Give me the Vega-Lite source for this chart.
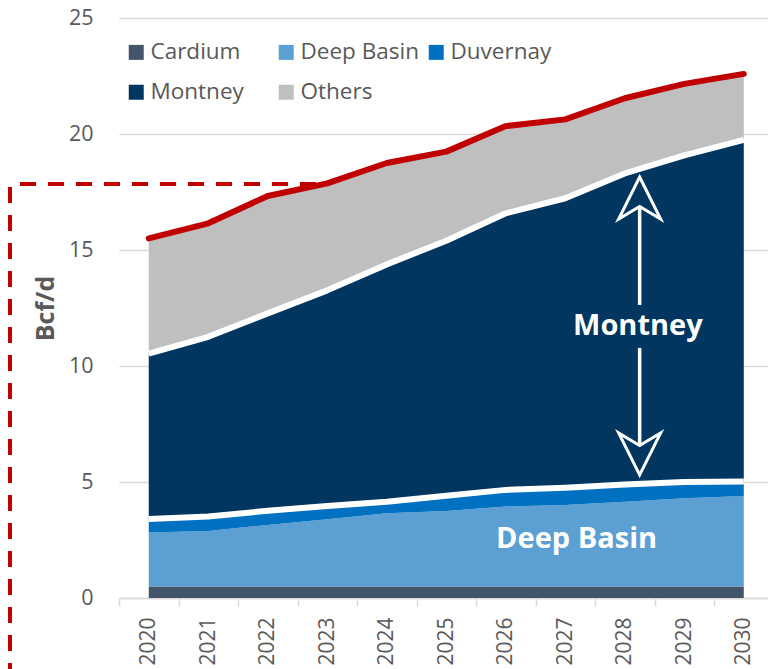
{
  "$schema": "https://vega.github.io/schema/vega-lite/v6.json",
  "width": 649,
  "height": 580,
  "autosize": {"type": "none"},
  "padding": {"left": 119, "top": 18, "right": 0, "bottom": 71},
  "background": "white",
  "config": {"font": "Open Sans", "view": {"stroke": null}},
  "data": {"values": [
    {"year": 2020, "series": "Cardium", "value": 0.5},
    {"year": 2020, "series": "Deep Basin", "value": 2.32},
    {"year": 2020, "series": "Duvernay", "value": 0.58},
    {"year": 2020, "series": "Montney", "value": 7.13},
    {"year": 2020, "series": "Others", "value": 4.97},
    {"year": 2021, "series": "Cardium", "value": 0.5},
    {"year": 2021, "series": "Deep Basin", "value": 2.39},
    {"year": 2021, "series": "Duvernay", "value": 0.62},
    {"year": 2021, "series": "Montney", "value": 7.75},
    {"year": 2021, "series": "Others", "value": 4.89},
    {"year": 2022, "series": "Cardium", "value": 0.5},
    {"year": 2022, "series": "Deep Basin", "value": 2.65},
    {"year": 2022, "series": "Duvernay", "value": 0.61},
    {"year": 2022, "series": "Montney", "value": 8.51},
    {"year": 2022, "series": "Others", "value": 5.06},
    {"year": 2023, "series": "Cardium", "value": 0.5},
    {"year": 2023, "series": "Deep Basin", "value": 2.89},
    {"year": 2023, "series": "Duvernay", "value": 0.58},
    {"year": 2023, "series": "Montney", "value": 9.29},
    {"year": 2023, "series": "Others", "value": 4.61},
    {"year": 2024, "series": "Cardium", "value": 0.5},
    {"year": 2024, "series": "Deep Basin", "value": 3.15},
    {"year": 2024, "series": "Duvernay", "value": 0.5},
    {"year": 2024, "series": "Montney", "value": 10.23},
    {"year": 2024, "series": "Others", "value": 4.37},
    {"year": 2025, "series": "Cardium", "value": 0.5},
    {"year": 2025, "series": "Deep Basin", "value": 3.25},
    {"year": 2025, "series": "Duvernay", "value": 0.66},
    {"year": 2025, "series": "Montney", "value": 10.99},
    {"year": 2025, "series": "Others", "value": 3.84},
    {"year": 2026, "series": "Cardium", "value": 0.5},
    {"year": 2026, "series": "Deep Basin", "value": 3.44},
    {"year": 2026, "series": "Duvernay", "value": 0.72},
    {"year": 2026, "series": "Montney", "value": 11.92},
    {"year": 2026, "series": "Others", "value": 3.76},
    {"year": 2027, "series": "Cardium", "value": 0.5},
    {"year": 2027, "series": "Deep Basin", "value": 3.51},
    {"year": 2027, "series": "Duvernay", "value": 0.74},
    {"year": 2027, "series": "Montney", "value": 12.48},
    {"year": 2027, "series": "Others", "value": 3.4},
    {"year": 2028, "series": "Cardium", "value": 0.5},
    {"year": 2028, "series": "Deep Basin", "value": 3.65},
    {"year": 2028, "series": "Duvernay", "value": 0.74},
    {"year": 2028, "series": "Montney", "value": 13.41},
    {"year": 2028, "series": "Others", "value": 3.24},
    {"year": 2029, "series": "Cardium", "value": 0.5},
    {"year": 2029, "series": "Deep Basin", "value": 3.8},
    {"year": 2029, "series": "Duvernay", "value": 0.7},
    {"year": 2029, "series": "Montney", "value": 14.08},
    {"year": 2029, "series": "Others", "value": 3.08},
    {"year": 2030, "series": "Cardium", "value": 0.5},
    {"year": 2030, "series": "Deep Basin", "value": 3.9},
    {"year": 2030, "series": "Duvernay", "value": 0.62},
    {"year": 2030, "series": "Montney", "value": 14.73},
    {"year": 2030, "series": "Others", "value": 2.84}
  ]},
  "layer": [
    {
      "mark": {"type": "area", "interpolate": "linear"},
      "encoding": {
        "x": {
          "field": "year", "type": "quantitative",
          "scale": {"domain": [2019.5, 2030.407], "nice": false, "zero": false},
          "axis": {
            "values": [2020, 2021, 2022, 2023, 2024, 2025, 2026, 2027, 2028, 2029, 2030],
            "format": "d", "title": null, "grid": false,
            "labelAngle": -90, "labelFlush": false, "labelOverlap": false,
            "tickOffset": -29.75, "labelOffset": 29.75,
            "tickSize": 8, "tickColor": "#D9D9D9", "tickWidth": 1.5,
            "domainColor": "#D9D9D9", "domainWidth": 1.5,
            "labelPadding": 11, "labelFontSize": 21, "labelColor": "#595959"
          }
        },
        "y": {
          "field": "value", "type": "quantitative", "stack": "zero",
          "scale": {"domain": [0, 25], "nice": false},
          "axis": {
            "values": [0, 5, 10, 15, 20, 25],
            "title": "Bcf/d", "titleFontSize": 25, "titleFontWeight": "bold", "titleColor": "#595959",
            "titleX": -74, "titleY": 290, "titleAngle": -90, "titleAlign": "center", "titleBaseline": "middle",
            "grid": true, "gridColor": "#D9D9D9", "gridWidth": 1.5,
            "domain": false, "ticks": false,
            "labelPadding": 26, "labelFontSize": 21.5, "labelColor": "#595959"
          }
        },
        "color": {
          "field": "series", "type": "nominal",
          "scale": {
            "domain": ["Cardium", "Deep Basin", "Duvernay", "Montney", "Others"],
            "range": ["#44546A", "#5B9FD3", "#0070C0", "#00365F", "#BFBFBF"]
          },
          "legend": {
            "orient": "none", "legendX": 6, "legendY": 23, "direction": "horizontal", "columns": 3,
            "title": null, "symbolType": "square", "symbolSize": 225, "symbolStrokeWidth": 0,
            "labelFontSize": 22.5, "labelColor": "#595959", "labelOffset": 3, "labelLimit": 300,
            "rowPadding": 17, "columnPadding": 6, "gridAlign": "all", "padding": 0
          }
        },
        "order": {"field": "series", "sort": "ascending"}
      }
    },
    {
      "transform": [
        {"stack": "value", "groupby": ["year"], "sort": [{"field": "series", "order": "ascending"}], "as": ["v0", "v1"]},
        {"filter": "datum.series === 'Duvernay' || datum.series === 'Montney'"}
      ],
      "mark": {"type": "line", "stroke": "white", "strokeWidth": 6, "strokeJoin": "round"},
      "encoding": {
        "x": {"field": "year", "type": "quantitative"},
        "y": {"field": "v1", "type": "quantitative"},
        "detail": {"field": "series"}
      }
    },
    {
      "transform": [
        {"stack": "value", "groupby": ["year"], "sort": [{"field": "series", "order": "ascending"}], "as": ["v0", "v1"]},
        {"filter": "datum.series === 'Others'"}
      ],
      "mark": {"type": "line", "stroke": "#C00000", "strokeWidth": 6, "strokeCap": "round", "strokeJoin": "round"},
      "encoding": {
        "x": {"field": "year", "type": "quantitative"},
        "y": {"field": "v1", "type": "quantitative"}
      }
    },
    {
      "data": {"values": [{}]},
      "mark": {"type": "rule", "stroke": "#C00000", "strokeWidth": 4, "strokeDash": [16, 12], "strokeDashOffset": 18, "clip": false},
      "encoding": {
        "x": {"datum": 2017.668}, "x2": {"datum": 2022.83},
        "y": {"datum": 17.845}
      }
    },
    {
      "data": {"values": [{}]},
      "mark": {"type": "rule", "stroke": "#C00000", "strokeWidth": 4, "strokeDash": [16, 12], "strokeDashOffset": 25, "clip": false},
      "encoding": {
        "x": {"datum": 2017.668},
        "y": {"datum": 17.845}, "y2": {"datum": -4}
      }
    },
    {
      "data": {"values": [{}]},
      "mark": {"type": "rule", "stroke": "white", "strokeWidth": 3.5},
      "encoding": {
        "x": {"datum": 2028.25},
        "y": {"datum": 16.9}, "y2": {"datum": 12.63}
      }
    },
    {
      "data": {"values": [{}]},
      "mark": {"type": "rule", "stroke": "white", "strokeWidth": 3.5},
      "encoding": {
        "x": {"datum": 2028.25},
        "y": {"datum": 10.78}, "y2": {"datum": 6.6}
      }
    },
    {
      "data": {"values": [{}]},
      "mark": {"type": "point", "shape": "M0,-1L1,1L0,0.4L-1,1Z", "size": 1764, "filled": true, "fill": "#00365F", "stroke": "white", "strokeWidth": 3, "opacity": 1},
      "encoding": {
        "x": {"datum": 2028.25},
        "y": {"datum": 17.24}
      }
    },
    {
      "data": {"values": [{}]},
      "mark": {"type": "point", "shape": "M0,1L1,-1L0,-0.4L-1,-1Z", "size": 1764, "filled": true, "fill": "#00365F", "stroke": "white", "strokeWidth": 3, "opacity": 1},
      "encoding": {
        "x": {"datum": 2028.25},
        "y": {"datum": 6.21}
      }
    },
    {
      "data": {"values": [{}]},
      "mark": {"type": "text", "text": "Montney", "font": "Open Sans", "fontWeight": "bold", "fontSize": 29, "color": "white", "align": "center", "baseline": "middle"},
      "encoding": {
        "x": {"datum": 2028.22},
        "y": {"datum": 11.72}
      }
    },
    {
      "data": {"values": [{}]},
      "mark": {"type": "text", "text": "Deep Basin", "font": "Open Sans", "fontWeight": "bold", "fontSize": 29, "color": "white", "align": "center", "baseline": "middle"},
      "encoding": {
        "x": {"datum": 2027.19},
        "y": {"datum": 2.54}
      }
    }
  ]
}
